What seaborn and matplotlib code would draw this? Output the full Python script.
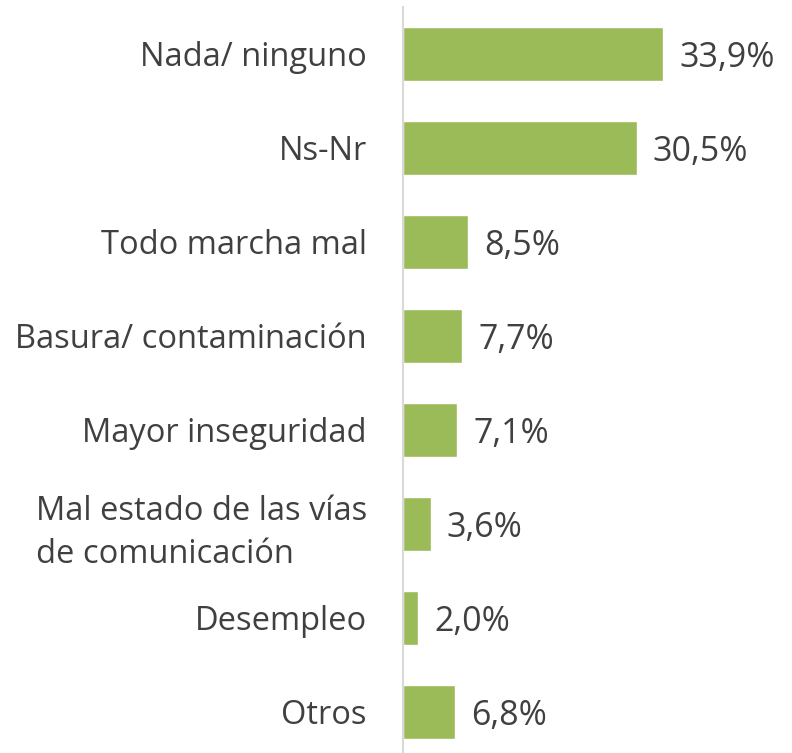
import matplotlib
matplotlib.use("Agg")
import matplotlib.pyplot as plt
import seaborn as sns
import pandas as pd

categories = ["Nada/ ninguno", "Ns-Nr", "Todo marcha mal", "Basura/ contaminación",
              "Mayor inseguridad", "Mal estado de las vías\nde comunicación",
              "Desempleo", "Otros"]
values = [33.9, 30.5, 8.5, 7.7, 7.1, 3.6, 2.0, 6.8]
labels = ["33,9%", "30,5%", "8,5%", "7,7%", "7,1%", "3,6%", "2,0%", "6,8%"]

sns.set_theme(style="white")
plt.rcParams["font.family"] = ["Open Sans", "DejaVu Sans"]

df = pd.DataFrame({"cat": categories, "val": values})

fig = plt.figure(figsize=(7.92, 7.53), dpi=100)
ax = fig.add_axes([403 / 792, 0, 1 - 403 / 792, 1 - 7 / 753])
sns.barplot(data=df, x="val", y="cat", color="#9BBB59", width=0.57, ax=ax,
            saturation=1, orient="h")

ax.set_xlim(0, (792 - 403) / (260 / 33.9))
ax.set_ylim(-0.5 + 746 / 94, -0.5)
for i, (v, t) in enumerate(zip(values, labels)):
    ax.text(v + 16 / (260 / 33.9), i, t, va="center_baseline", ha="left",
            fontsize=24.5, color="#404040")

ax.set_xlabel("")
ax.set_ylabel("")
ax.set_xticks([])
ax.set_yticks(range(len(categories)))
ax.set_yticklabels(categories, linespacing=1.4, ha="right", multialignment="left")
ax.tick_params(axis="y", length=0, pad=26, labelsize=23.5, labelcolor="#404040")
for s in ["top", "right", "bottom"]:
    ax.spines[s].set_visible(False)
ax.spines["left"].set_color("#D9D9D9")
ax.spines["left"].set_linewidth(1.5)

fig.savefig("out.png", dpi=100)
